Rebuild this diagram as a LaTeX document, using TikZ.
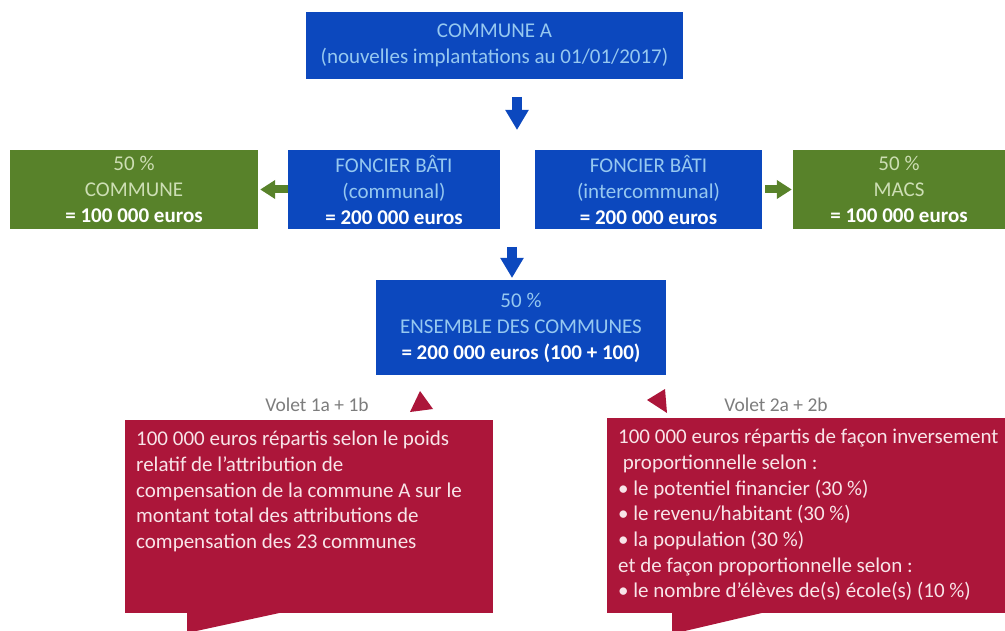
\documentclass[tikz,border=0pt]{standalone}
\usepackage{fontspec}
\setmainfont{Carlito}
\usetikzlibrary{arrows.meta}
\definecolor{cblue}{RGB}{12,72,190}
\definecolor{cgreen}{RGB}{88,130,42}
\definecolor{cred}{RGB}{172,22,58}
\definecolor{tblue}{RGB}{150,200,240}
\definecolor{tgreen}{RGB}{205,222,180}
\definecolor{tred}{RGB}{248,228,232}
\definecolor{tgray}{RGB}{125,125,125}
\begin{document}
\begin{tikzpicture}[x=1pt,y=-1pt,
 box/.style={rectangle, inner sep=0pt, align=center, font=\fontsize{21}{26}\selectfont},
 bluebox/.style={box, fill=cblue, text=tblue},
 greenbox/.style={box, fill=cgreen, text=tgreen},
 redbox/.style={rectangle, fill=cred, inner sep=0pt, anchor=north west},
 redtext/.style={inner sep=0pt, align=left, text=tred, font=\fontsize{21}{25.7}\selectfont, anchor=north west},
 volet/.style={inner sep=0pt, text=tgray, font=\fontsize{19.5}{24}\selectfont},
 bluearrow/.style={draw=cblue, line width=10pt, -{Triangle[length=20pt,width=22pt]}},
 greenarrow/.style={draw=cgreen, line width=8pt, -{Triangle[length=15pt,width=18pt]}},
 marker/.style={fill=cred},
 bold/.style={}
]
\useasboundingbox (0,0) rectangle (1005,631);
\fill[white] (0,0) rectangle (1005,631);

% top box
\node[bluebox, minimum width=377pt, minimum height=67pt] (top) at (494.5,45.5)
  {COMMUNE A\\(nouvelles implantations au 01/01/2017)};

% second row
\node[greenbox, minimum width=248pt, minimum height=79pt] (gl) at (134,189.5)
  {50 \%\\COMMUNE\\\textcolor{white}{\bfseries = 100 000 euros}};
\node[bluebox, minimum width=212pt, minimum height=79pt] (comm) at (394,189.5)
  {FONCIER BÂTI\\(communal)\\\textcolor{white}{\bfseries = 200 000 euros}};
\node[bluebox, minimum width=227pt, minimum height=79pt] (inter) at (648.5,189.5)
  {FONCIER BÂTI\\(intercommunal)\\\textcolor{white}{\bfseries = 200 000 euros}};
\node[greenbox, minimum width=212pt, minimum height=79pt] (macs) at (899,189.5)
  {50 \%\\MACS\\\textcolor{white}{\bfseries = 100 000 euros}};

% ensemble
\node[bluebox, minimum width=290pt, minimum height=95pt] (ens) at (521,327.5)
  {50 \%\\ENSEMBLE DES COMMUNES\\\textcolor{white}{\bfseries = 200 000 euros (100 + 100)}};

% arrows
\coordinate (a1s) at (517,97);
\coordinate (a1e) at (517,130);
\coordinate (a2s) at (512,247);
\coordinate (a2e) at (512,278);
\draw[bluearrow] (a1s) -- (a1e);
\draw[bluearrow] (a2s) -- (a2e);
\draw[greenarrow, shorten >=2pt] (comm.west) -- (gl.east);
\draw[greenarrow, shorten <=3pt, shorten >=1pt] (inter.east) -- (macs.west);

% markers
\fill[marker] (420,391) -- (410,412) -- (433,409) -- cycle;
\fill[marker] (647,400) -- (665,389) -- (667,413) -- cycle;

% volet labels
\node[volet] (v1lbl) at (317,405) {Volet 1a + 1b};
\node[volet] (v2lbl) at (776,405) {Volet 2a + 2b};

% callouts
\node[redbox, minimum width=368pt, minimum height=193pt] (v1) at (125,420) {};
\fill[cred] (187,612) -- (187,633) -- (284,612) -- cycle;
\node[redbox, minimum width=398pt, minimum height=195pt] (v2) at (607,418) {};
\fill[cred] (672,612) -- (672,634) -- (766,612) -- cycle;

\node[redtext] (v1t) at (136,431)
  {100 000 euros répartis selon le poids\\relatif de l’attribution de\\compensation de la commune A sur le\\montant total des attributions de\\compensation des 23 communes};
\node[redtext] (v2t) at (618,429)
  {100 000 euros répartis de façon inversement\\\ proportionnelle selon :\\• le potentiel financier (30 \%)\\• le revenu/habitant (30 \%)\\• la population (30 \%)\\et de façon proportionnelle selon :\\• le nombre d’élèves de(s) école(s) (10 \%)};
\end{tikzpicture}
\end{document}
